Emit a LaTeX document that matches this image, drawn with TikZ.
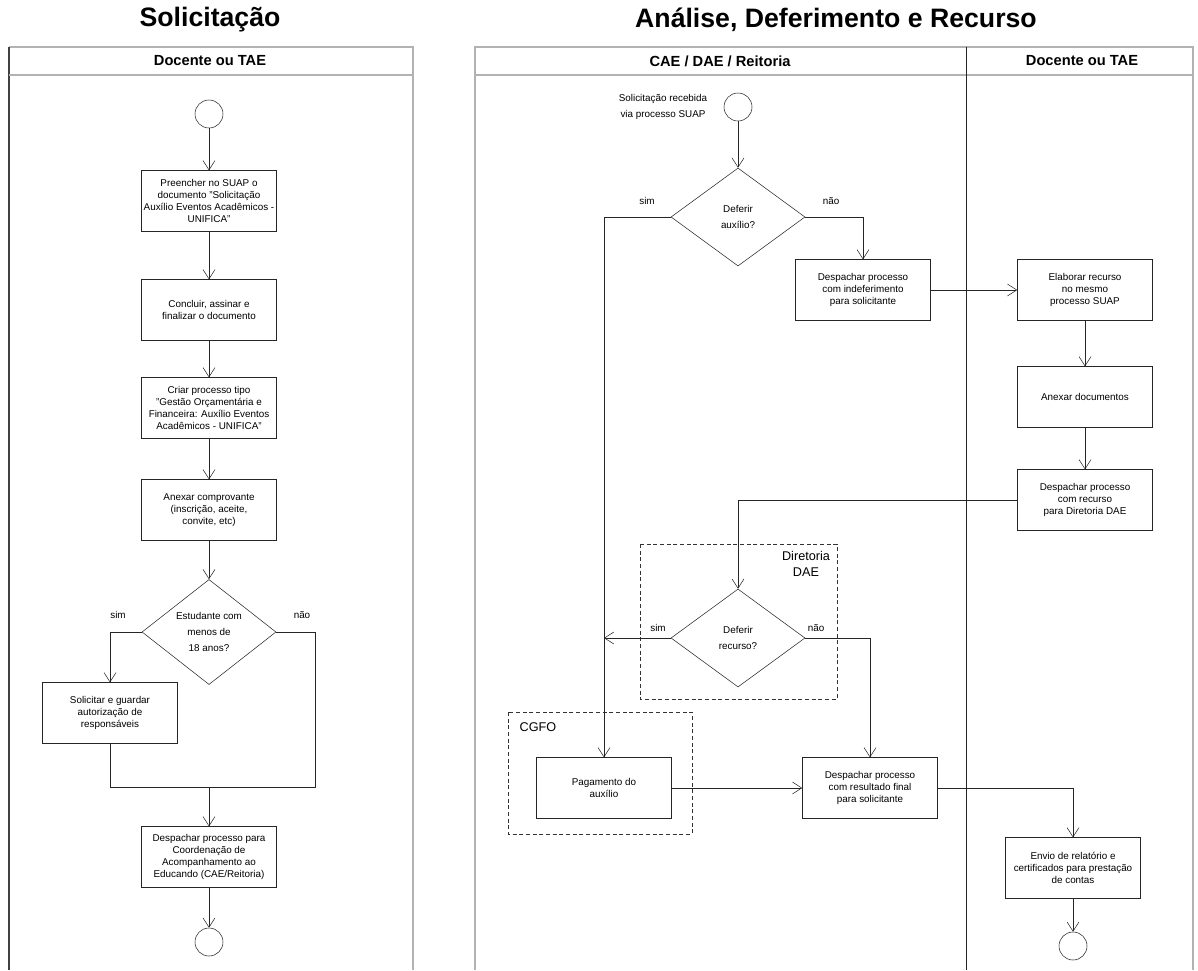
\documentclass[tikz,border=0pt]{standalone}
\usepackage{fontspec}
\setmainfont{Liberation Sans}
\usepackage{xcolor}
\usepackage{tikz}
\usetikzlibrary{shapes.geometric, arrows.meta, positioning}
\newcommand{\boxfont}{\fontsize{7.4}{8.9}\selectfont}
\newcommand{\decfont}{\fontsize{7.4}{12}\selectfont}
\tikzstyle{task} = [rectangle, draw=black!85, minimum width=101.25pt, minimum height=45.5pt, inner sep=1pt, text centered, align=center, font=\boxfont]
\tikzstyle{decision} = [diamond, draw=black!85, minimum width=100.5pt, minimum height=73.5pt, inner sep=0pt, align=center, font=\decfont]
\tikzstyle{event} = [circle, draw=black!85, minimum size=21pt, inner sep=0pt]
\tikzstyle{arrow} = [draw=black!85, ->, >={Straight Barb[length=7pt, width=9pt]}]
\tikzstyle{line} = [draw=black!85]
\tikzstyle{choice} = [inner sep=0pt, font=\boxfont]
\tikzstyle{pool} = [draw=gray!60, line width=1pt]
\tikzstyle{group} = [draw=black!80, dash pattern=on 3pt off 2pt]
\tikzstyle{title} = [font=\fontsize{20}{22}\selectfont\bfseries]
\tikzstyle{lane} = [font=\fontsize{11}{13}\selectfont\bfseries]

\begin{document}
\begin{tikzpicture}[x=0.75pt, y=-0.75pt]
    \useasboundingbox (0,0) rectangle (1198,970);

    % pools and lanes
    \node [title] at (210,20) {Solicitação};
    \node [title] at (836,20) {Análise, Deferimento e Recurso};
    \draw [pool] (413,970) -- (413,47) -- (9,47);
    \draw [pool, draw=black!75] (9,47) -- (9,970);
    \draw [pool] (9,75) -- (413,75);
    \node [lane] at (210,61) {Docente ou TAE};
    \draw [pool] (475,970) -- (475,47) -- (1193,47) -- (1193,970);
    \draw [pool] (475,75) -- (1193,75);
    \draw [line] (966,47) -- (966,970);
    \node [lane] at (720,61) {CAE / DAE / Reitoria};
    \node [lane] at (1082,61) {Docente ou TAE};

    % solicitacao
    \node (start1) [event] at (209,114) {};
    \node (fill) [task] at (209,201) {Preencher no SUAP o\\documento "Solicitação\\Auxílio Eventos Acadêmicos -\\UNIFICA"};
    \node (sign) [task] at (209,310) {Concluir, assinar e\\finalizar o documento};
    \node (create) [task] at (209,408) {Criar processo tipo\\"Gestão Orçamentária e\\Financeira: Auxílio Eventos\\Acadêmicos - UNIFICA"};
    \node (attach) [task] at (209,510) {Anexar comprovante\\(inscrição, aceite,\\convite, etc)};
    \node (minor) [decision] at (209,632) {Estudante com\\menos de\\18 anos?};
    \node (consent) [task] at (110,713) {Solicitar e guardar\\autorização de\\responsáveis};
    \node (dispatch) [task] at (209,857) {Despachar processo para\\Coordenação de\\Acompanhamento ao\\Educando (CAE/Reitoria)};
    \node (end1) [event] at (209,942) {};
    \coordinate (merge) at (209,787);
    \coordinate (minorno) at (315,787);
    \node [choice] at (118,615) {sim};
    \node [choice] at (302,615) {não};

    \draw [arrow] (start1) -- (fill);
    \draw [arrow] (fill) -- (sign);
    \draw [arrow] (sign) -- (create);
    \draw [arrow] (create) -- (attach);
    \draw [arrow] (attach) -- (minor);
    \draw [arrow] (minor.west) -| (consent);
    \draw [line] (minor.east) -| (minorno) -| (consent.south);
    \draw [arrow] (merge) -- (dispatch);
    \draw [arrow] (dispatch) -- (end1);

    % analise, deferimento e recurso
    \draw [group] (640,544) rectangle (837,699);
    \node [font=\fontsize{9.5}{12}\selectfont, align=center] at (806,564) {Diretoria\\DAE};
    \draw [group] (508,712) rectangle (692,834);
    \node [font=\fontsize{9.5}{12}\selectfont] at (538,727) {CGFO};

    \node (start2) [event] at (738,107) {};
    \node [font=\decfont, align=center] at (663,107) {Solicitação recebida\\via processo SUAP};
    \node (grant) [decision] at (738,217) {Deferir\\auxílio?};
    \node (deny) [task] at (863,290) {Despachar processo\\com indeferimento\\para solicitante};
    \node (appeal) [task] at (1085,290) {Elaborar recurso\\no mesmo\\processo SUAP};
    \node (docs) [task] at (1085,397) {Anexar documentos};
    \node (send) [task] at (1085,500) {Despachar processo\\com recurso\\para Diretoria DAE};
    \node (review) [decision] at (738,638) {Deferir\\recurso?};
    \node (pay) [task] at (604,788) {Pagamento do\\auxílio};
    \node (result) [task] at (870,788) {Despachar processo\\com resultado final\\para solicitante};
    \node (report) [task] at (1073,868) {Envio de relatório e\\certificados para prestação\\de contas};
    \node (end2) [event] at (1073,946) {};
    \node [choice] at (647,201) {sim};
    \node [choice] at (831,201) {não};
    \node [choice] at (658,628) {sim};
    \node [choice] at (816,628) {não};

    \draw [arrow] (start2) -- (grant);
    \draw [arrow] (grant.west) -| (pay);
    \draw [arrow] (grant.east) -| (deny);
    \draw [arrow] (deny) -- (appeal);
    \draw [arrow] (appeal) -- (docs);
    \draw [arrow] (docs) -- (send);
    \draw [arrow] (send.west) -| (review);
    \draw [arrow] (review.west) -- (review.west -| pay);
    \draw [arrow] (review.east) -| (result);
    \draw [arrow] (pay) -- (result);
    \draw [arrow] (result.east) -| (report);
    \draw [arrow] (report) -- (end2);
\end{tikzpicture}
\end{document}
